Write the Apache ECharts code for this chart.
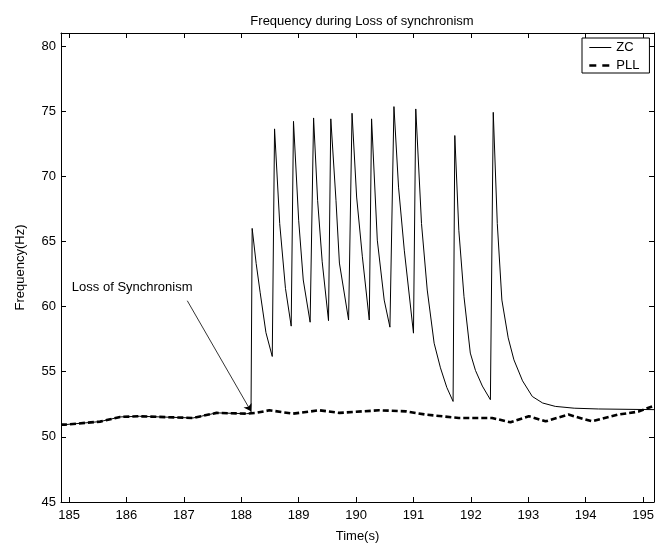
<!DOCTYPE html>
<html>
<head>
<meta charset="utf-8">
<script src="https://cdn.jsdelivr.net/npm/echarts@6/dist/echarts.min.js"></script>
<style>html,body{margin:0;padding:0;background:#fff}#c{width:665px;height:548px}</style>
</head>
<body>
<div id="c"></div>
<script>
// ---- data ----
const xTicks = [185,186,187,188,189,190,191,192,193,194,195];
const yTicks = [45,50,55,60,65,70,75,80];

const zcTime = [184.86,184.93,185.54,185.89,186.23,187.16,187.57,188.09,188.17,
  188.19,188.26,188.33,188.43,188.54,
  188.58,188.67,188.77,188.87,
  188.91,189.00,189.08,189.20,
  189.26,189.33,189.41,189.52,
  189.56,189.65,189.71,189.87,
  189.93,190.01,190.11,190.23,
  190.27,190.37,190.49,190.59,
  190.66,190.74,190.84,191.00,
  191.04,191.14,191.24,191.36,191.47,191.58,191.69,
  191.72,191.79,191.88,191.99,192.08,192.20,192.34,
  192.39,192.46,192.54,192.65,192.75,192.90,193.07,193.25,193.47,193.80,194.22,195.19];
const zcFreq = [50.94,50.94,51.17,51.53,51.58,51.45,51.84,51.78,51.80,
  66.0,63.3,61.06,58.0,56.17,
  73.64,66.37,61.4,58.5,
  74.22,66.63,62.04,58.8,
  74.48,68.16,63.44,58.92,
  74.41,68.16,63.34,58.97,
  74.84,68.41,63.82,58.97,
  74.41,65.1,60.5,58.42,
  75.35,69.17,64.33,57.96,
  75.17,66.37,61.27,57.19,55.3,53.8,52.72,
  73.13,65.86,60.76,56.43,55.1,53.9,52.85,
  74.91,66.37,60.5,57.6,55.91,54.3,53.1,52.6,52.34,52.2,52.14,52.09];

const pllTime = [184.86,184.93,185.54,185.89,186.23,187.16,187.57,188.09,188.26,188.49,188.90,
  189.36,189.71,190.40,190.87,191.21,191.79,192.37,192.69,193.01,193.30,193.70,194.11,194.57,194.92,195.19];
const pllFreq = [50.94,50.94,51.17,51.53,51.58,51.45,51.84,51.78,51.84,52.04,51.78,
  52.04,51.84,52.04,51.96,51.71,51.45,51.45,51.12,51.58,51.19,51.71,51.19,51.71,51.94,52.39];

const annText = 'Loss of Synchronism';
const annTextAt = [186.10, 61.5];
const arrowFrom = [187.06, 60.45];
const arrowTo = [188.17, 51.96];

// ---- chart ----
const FONT = "'Liberation Sans', Arial, Helvetica, sans-serif";
const zip = (a, b) => a.map((v, i) => [v, b[i]]);
const chart = echarts.init(document.getElementById('c'), null, {renderer: 'canvas'});

const axisCommon = {
  axisLine: {show: true, onZero: false, lineStyle: {color: '#000', width: 1}},
  axisTick: {show: true, inside: true, length: 5, lineStyle: {color: '#000'}},
  splitLine: {show: false}
};

chart.setOption({
  animation: false,
  backgroundColor: '#fff',
  textStyle: {fontFamily: FONT},
  title: {
    text: 'Frequency during Loss of synchronism',
    left: 357, top: 10, textAlign: 'center',
    textStyle: {fontSize: 13, fontWeight: 'normal', color: '#000', fontFamily: FONT}
  },
  grid: {left: 61, right: 11, top: 33, bottom: 45, containLabel: false},
  legend: {
    orient: 'vertical', left: 582, top: 38,
    padding: [3, 10, 1, 6], itemGap: 5, itemWidth: 22, itemHeight: 12,
    borderColor: '#000', borderWidth: 1, backgroundColor: '#fff',
    itemStyle: {opacity: 0},
    textStyle: {fontSize: 13, color: '#000', fontFamily: FONT},
    data: [
      {name: 'ZC', lineStyle: {width: 1, type: 'solid'}},
      {name: 'PLL', lineStyle: {width: 2.6, type: [7, 6]}}
    ]
  },
  xAxis: [
    Object.assign({}, axisCommon, {
      type: 'value', min: 184.86, max: 195.19, position: 'bottom',
      name: 'Time(s)', nameLocation: 'middle', nameGap: 28,
      nameTextStyle: {fontSize: 13, color: '#000', fontFamily: FONT},
      axisTick: Object.assign({}, axisCommon.axisTick, {customValues: xTicks}),
      axisLabel: {customValues: xTicks, fontSize: 13, color: '#000', margin: 7, fontFamily: FONT}
    }),
    Object.assign({}, axisCommon, {
      type: 'value', min: 184.86, max: 195.19, position: 'top',
      axisTick: Object.assign({}, axisCommon.axisTick, {customValues: xTicks}),
      axisLabel: {show: false}
    })
  ],
  yAxis: [
    Object.assign({}, axisCommon, {
      type: 'value', min: 45, max: 81, position: 'left',
      name: 'Frequency(Hz)', nameLocation: 'middle', nameGap: 34,
      nameTextStyle: {fontSize: 13, color: '#000', fontFamily: FONT},
      axisTick: Object.assign({}, axisCommon.axisTick, {customValues: yTicks}),
      axisLabel: {customValues: yTicks, fontSize: 13, color: '#000', margin: 5, fontFamily: FONT}
    }),
    Object.assign({}, axisCommon, {
      type: 'value', min: 45, max: 81, position: 'right',
      axisTick: Object.assign({}, axisCommon.axisTick, {customValues: yTicks}),
      axisLabel: {show: false}
    })
  ],
  series: [
    {
      name: 'ZC', type: 'line', symbol: 'none', showSymbol: false,
      xAxisIndex: 0, yAxisIndex: 0,
      data: zip(zcTime, zcFreq),
      lineStyle: {color: '#000', width: 1},
      itemStyle: {color: '#000'},
      z: 3,
      markLine: {
        silent: true, symbol: ['none', 'arrow'], symbolSize: 7,
        label: {show: false},
        lineStyle: {color: '#000', width: 0.8, type: 'solid'},
        data: [[{coord: arrowFrom}, {coord: arrowTo}]]
      },
      markPoint: {
        silent: true, symbol: 'circle', symbolSize: 1,
        itemStyle: {color: 'rgba(0,0,0,0)'},
        label: {show: true, position: 'inside', formatter: annText, color: '#000', fontSize: 13, fontFamily: FONT},
        data: [{coord: annTextAt}]
      }
    },
    {
      name: 'PLL', type: 'line', symbol: 'none', showSymbol: false,
      xAxisIndex: 0, yAxisIndex: 0,
      data: zip(pllTime, pllFreq),
      lineStyle: {color: '#000', width: 2.6, type: [6, 3]},
      itemStyle: {color: '#000'},
      z: 4
    }
  ]
});
</script>
</body>
</html>
